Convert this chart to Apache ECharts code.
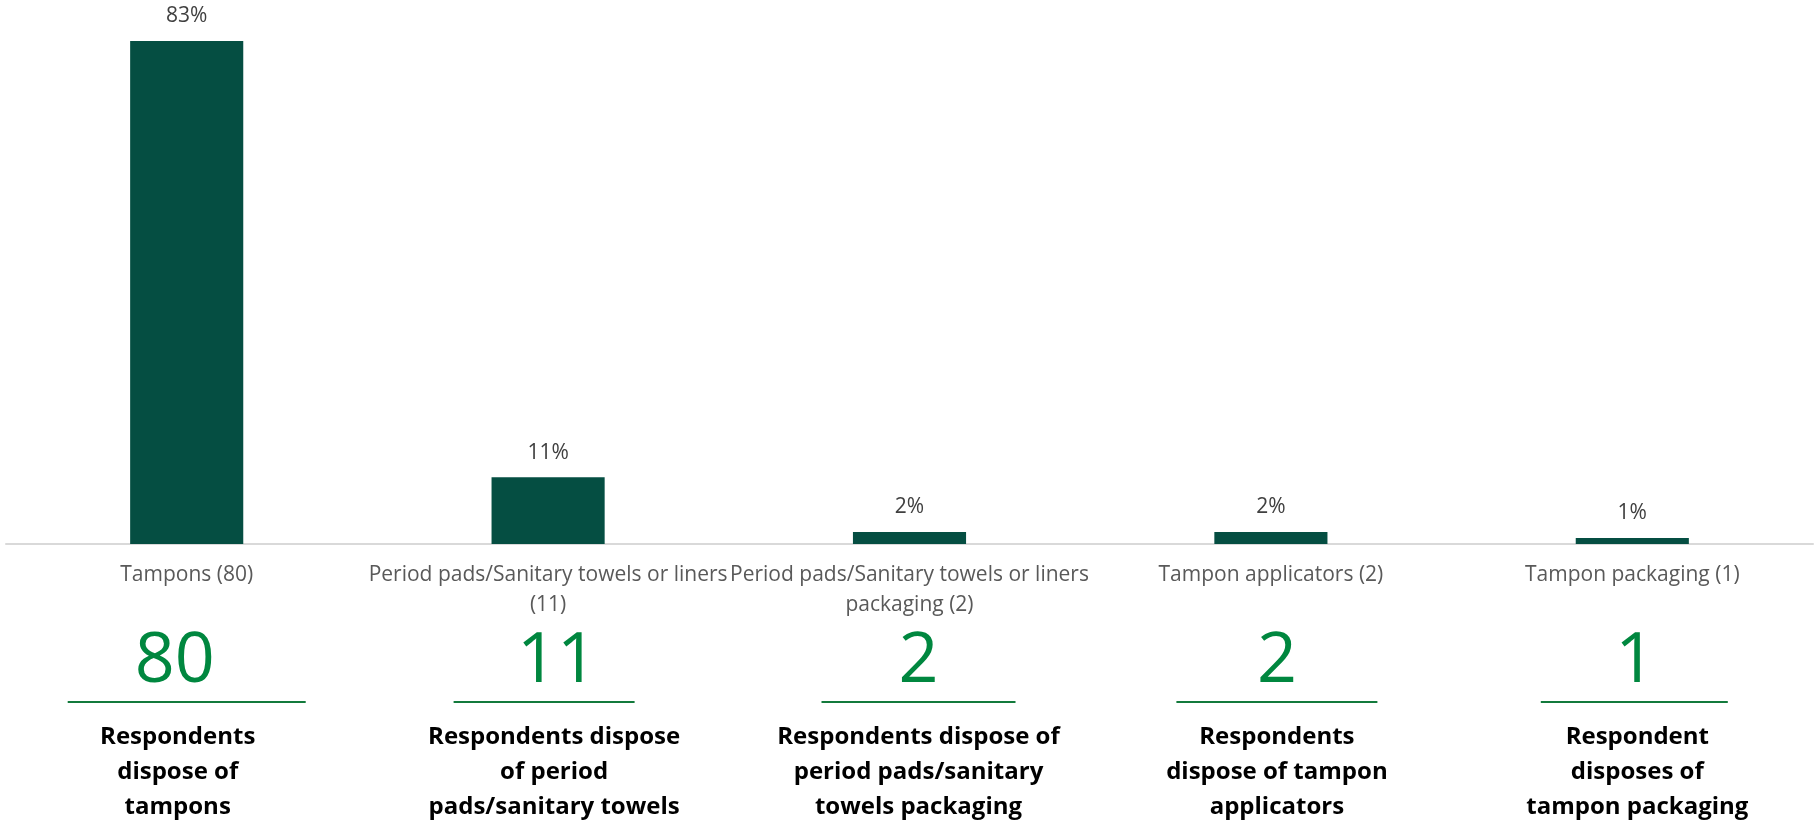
<!DOCTYPE html>
<html>
<head>
<meta charset="utf-8">
<script src="https://cdn.jsdelivr.net/npm/echarts@6/dist/echarts.min.js"></script>
<style>
  html, body { margin: 0; padding: 0; background: #ffffff; }
  #chart { width: 1817px; height: 822px; }
</style>
</head>
<body>
<div id="chart"></div>
<script>
// ---- data ----
const categories = [
  'Tampons (80)',
  'Period pads/Sanitary towels or liners\n(11)',
  'Period pads/Sanitary towels or liners\npackaging (2)',
  'Tampon applicators (2)',
  'Tampon packaging (1)'
];
const percentages = [83, 11, 2, 2, 1];
const respondentCounts = ['80', '11', '2', '2', '1'];
const captions = [
  'Respondents\ndispose of\ntampons',
  'Respondents dispose\nof period\npads/sanitary towels',
  'Respondents dispose of\nperiod pads/sanitary\ntowels packaging',
  'Respondents\ndispose of tampon\napplicators',
  'Respondent\ndisposes of\ntampon packaging'
];

// ---- styles (layout nudges of the annotation boxes, in px) ----
const FONT = '"Open Sans", "Noto Sans", sans-serif';
const underlineWidths = [238, 181, 194, 201, 187];
const underlineShift = [0, -4, 9, 6, 2];
const numberShift = [-12, 9, 9, 6, 3];
const captionShift = [-9, 6, 9, 6, 5];

const chart = echarts.init(document.getElementById('chart'), null, { renderer: 'canvas' });

const option = {
  animation: false,
  backgroundColor: '#ffffff',
  grid: { left: 6, right: 4, top: 41, bottom: 278, containLabel: false },
  xAxis: {
    type: 'category',
    data: categories,
    axisLine: { show: true, lineStyle: { color: '#d9d9d9', width: 2 } },
    axisTick: { show: false },
    axisLabel: {
      interval: 0,
      margin: 16,
      color: '#595959',
      fontFamily: FONT,
      fontSize: 21,
      lineHeight: 30
    }
  },
  yAxis: {
    type: 'value',
    min: 0,
    max: 83,
    show: false,
    splitLine: { show: false }
  },
  series: [{
    type: 'bar',
    data: percentages,
    barWidth: '31.3%',
    itemStyle: { color: '#054E42' },
    label: {
      show: true,
      position: 'top',
      distance: 14,
      formatter: '{c}%',
      color: '#404040',
      fontFamily: FONT,
      fontSize: 21
    }
  }]
};

chart.setOption(option);

// ---- annotations under each category, anchored to the category axis ----
const graphics = [];
categories.forEach(function (c, i) {
  const cx = chart.convertToPixel({ xAxisIndex: 0 }, i);
  graphics.push({
    type: 'text',
    silent: true,
    style: {
      text: respondentCounts[i],
      x: cx + numberShift[i],
      y: 662,
      align: 'center',
      verticalAlign: 'middle',
      fill: '#00873F',
      font: '70px ' + FONT
    }
  });
  const lx = cx + underlineShift[i];
  graphics.push({
    type: 'line',
    silent: true,
    shape: { x1: lx - underlineWidths[i] / 2, y1: 702, x2: lx + underlineWidths[i] / 2, y2: 702 },
    style: { stroke: '#137A3C', lineWidth: 2 }
  });
  graphics.push({
    type: 'text',
    silent: true,
    style: {
      text: captions[i],
      x: cx + captionShift[i],
      y: 772,
      align: 'center',
      verticalAlign: 'middle',
      fill: '#000000',
      font: 'bold 24px ' + FONT,
      lineHeight: 35
    }
  });
});
chart.setOption({ graphic: graphics });
</script>
</body>
</html>
